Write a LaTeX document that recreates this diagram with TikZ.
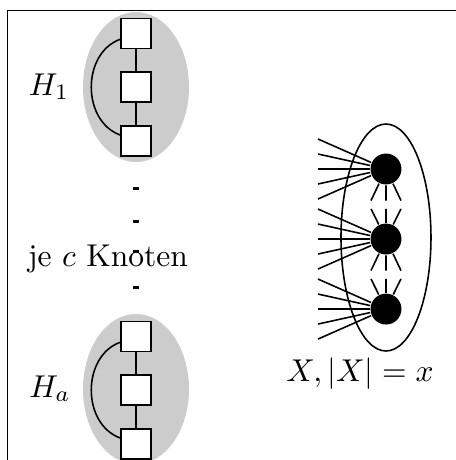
\documentclass[tikz,border=0pt]{standalone}
\usetikzlibrary{positioning,calc}
\begin{document}
\begin{tikzpicture}[x=0.317pt,y=-0.317pt,node distance=7pt,line width=0.5pt,
        knot/.style={draw,fill=white,minimum size=9.5pt,inner sep=0pt},
        vtx/.style={circle,fill=black,minimum size=9.8pt,inner sep=0pt},
        grp/.style={fill=black!20}]
  \useasboundingbox (0,0) rectangle (456,460);
  \clip (0,0) rectangle (456,460);
  \draw (456,10.5) -- (7.5,10.5) -- (7.5,460);
  % group H_1
  \fill[grp] (136,87) ellipse [x radius=53,y radius=75];
  \node[knot] (a1) at (136,33.5) {};
  \node[knot,below=of a1] (a2) {};
  \node[knot,below=of a2] (a3) {};
  \draw (a1) -- (a2) -- (a3);
  \draw (a1) to[out=200,in=160,looseness=1.1] (a3);
  \node[anchor=base] (h1) at (49,95) {$H_1$};
  % dots
  \foreach \y in {188.5,221,251,287}
    \fill (133,\y-1.5) rectangle (139,\y+1.5);
  \node[anchor=base] (knoten) at (108,266) {je $c$ Knoten};
  % group H_a
  \fill[grp] (136,389) ellipse [x radius=53,y radius=75];
  \node[knot] (b1) at (136,336.5) {};
  \node[knot,below=of b1] (b2) {};
  \node[knot,below=of b2] (b3) {};
  \draw (b1) -- (b2) -- (b3);
  \draw (b1) to[out=200,in=160,looseness=1.1] (b3);
  \node[anchor=base] (ha) at (50,397) {$H_a$};
  % set X
  \draw (386,237.5) ellipse [x radius=45,y radius=113.5];
  \node[vtx] (v1) at (386,169) {};
  \node[vtx,below=11.9pt of v1] (v2) {};
  \node[vtx,below=11.9pt of v2] (v3) {};
  \foreach \v in {v1,v2,v3}
    \foreach \o in {-30,-15,0,15,30}
      \draw (\v) -- ($(\v)+(-68,\o)$);
  \foreach \u/\w in {v1/v2,v2/v3}
    \foreach \dx in {-15,0,15} {
      \draw (\u) -- ($(\u)!0.45!(\w)+(\dx,0)$);
      \draw ($(\u)!0.57!(\w)+(\dx,0)$) -- (\w);
    }
  \node[anchor=base] (xlab) at (360,381.5) {$X, |X| = x$};
\end{tikzpicture}
\end{document}
